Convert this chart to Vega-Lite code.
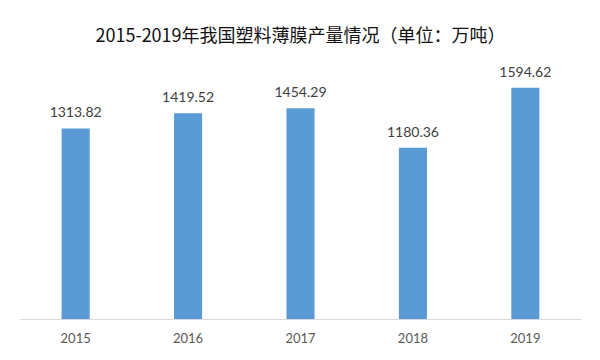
{
  "$schema": "https://vega.github.io/schema/vega-lite/v6.json",
  "width": 561,
  "height": 261,
  "autosize": {"type": "none"},
  "padding": {"left": 20, "top": 58, "right": 19, "bottom": 41},
  "background": "white",
  "title": {
    "text": "2015-2019年我国塑料薄膜产量情况（单位：万吨）",
    "font": "Noto Sans CJK SC",
    "fontSize": 18,
    "fontWeight": "normal",
    "color": "#111111",
    "anchor": "middle",
    "frame": "group",
    "offset": 12
  },
  "data": {
    "values": [
      {"year": "2015", "value": 1313.82},
      {"year": "2016", "value": 1419.52},
      {"year": "2017", "value": 1454.29},
      {"year": "2018", "value": 1180.36},
      {"year": "2019", "value": 1594.62}
    ]
  },
  "encoding": {
    "x": {
      "field": "year",
      "type": "nominal",
      "scale": {"paddingInner": 0.75, "paddingOuter": 0.37},
      "axis": {
        "title": null,
        "labelAngle": 0,
        "labelFont": "Lato",
        "labelFontSize": 13,
        "labelColor": "#595959",
        "labelPadding": 13,
        "ticks": false,
        "domainColor": "#d9d9d9",
        "domainWidth": 1
      }
    },
    "y": {
      "field": "value",
      "type": "quantitative",
      "scale": {"domain": [0, 1800]},
      "axis": null
    }
  },
  "layer": [
    {"mark": {"type": "bar", "color": "#5B9BD5"}},
    {
      "mark": {"type": "text", "baseline": "bottom", "dy": -8, "font": "Lato", "fontSize": 14, "color": "#404040"},
      "encoding": {"text": {"field": "value", "type": "quantitative", "format": ".2f"}}
    }
  ],
  "config": {"view": {"stroke": null}}
}
